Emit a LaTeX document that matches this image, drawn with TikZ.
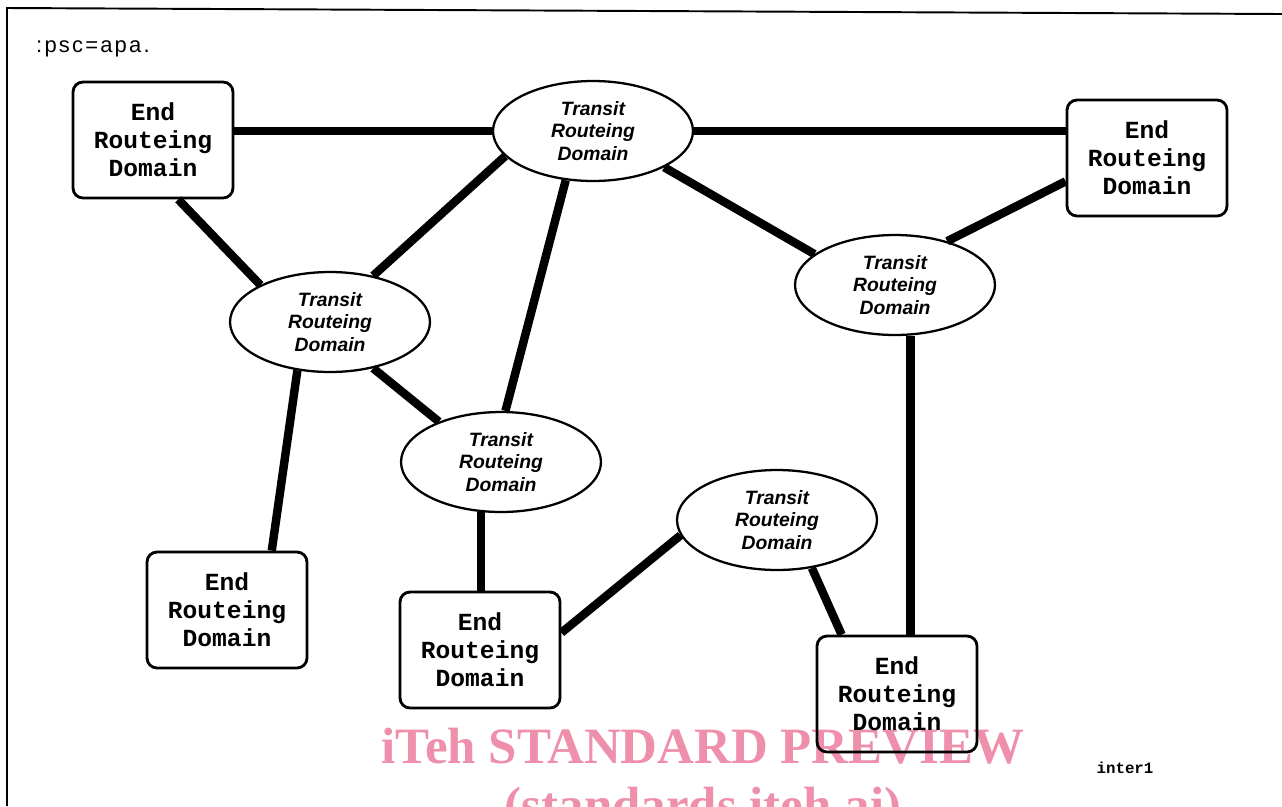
\documentclass[tikz,border=0pt]{standalone}
\usepackage{fontspec}
\setmainfont{Liberation Serif}
\newfontfamily\endfont{Liberation Mono}
\newfontfamily\transfont{Liberation Sans}
\usepackage{xcolor}
\usepackage{tikz}
\usetikzlibrary{shapes.geometric, positioning}
\definecolor{wmpink}{RGB}{238,143,172}

\begin{document}
\begin{tikzpicture}[
    x=0.02cm, y=-0.02cm,
    endbox/.style={rectangle, draw, line width=1.6pt, rounded corners=0.2cm, minimum width=3.2cm, minimum height=2.32cm, inner sep=0pt, align=center, font=\fontsize{14}{16}\selectfont\endfont\bfseries, execute at begin node={\rule{0pt}{19pt}}},
    transit/.style={ellipse, draw, line width=1.3pt, minimum width=4cm, minimum height=2cm, inner sep=0pt, align=center, font=\fontsize{11}{12.8}\selectfont\transfont\bfseries\itshape, execute at begin node={\rule{0pt}{15pt}}},
    link/.style={line width=4.8pt},
    frame/.style={line width=1.1pt}
]
    \useasboundingbox (0,0) rectangle (1282,806);

    % Watermark
    \node[anchor=base, text=wmpink, font=\fontsize{29}{35}\selectfont\bfseries] (wmtop) at (703,763) {iTeh STANDARD PREVIEW};
    \node[anchor=base, text=wmpink, font=\fontsize{29}{35}\selectfont\bfseries] (wmbot) at (703,822) {(standards.iteh.ai)};

    % Frame and labels
    \draw[frame] (1282,14) -- (7,8) -- (7,806);
    \node[anchor=base west, font=\fontsize{12.5}{14}\selectfont\transfont\addfontfeatures{LetterSpace=10}] (tag) at (30,52) {:psc=apa.};
    \node[anchor=base, font=\fontsize{9}{10}\selectfont\endfont\bfseries] (fileref) at (1125,773) {inter1};

    % End routeing domains
    \node[endbox] (endnw) at (153,140) {End\\Routeing\\Domain};
    \node[endbox] (endne) at (1147,158) {End\\Routeing\\Domain};
    \node[endbox] (endsw) at (227,610) {End\\Routeing\\Domain};
    \node[endbox] (ends) at (480,650) {End\\Routeing\\Domain};
    \node[endbox] (endse) at (897,694) {End\\Routeing\\Domain};

    % Transit routeing domains
    \node[transit] (trtop) at (593,131) {Transit\\Routeing\\Domain};
    \node[transit] (trleft) at (330,322) {Transit\\Routeing\\Domain};
    \node[transit] (trmid) at (501,462) {Transit\\Routeing\\Domain};
    \node[transit] (trright) at (895,285) {Transit\\Routeing\\Domain};
    \node[transit] (trlow) at (777,520) {Transit\\Routeing\\Domain};

    % Links
    \draw[link] (trtop.west) -- (trtop.west -| endnw.east);
    \draw[link] (trtop.east) -- (trtop.east -| endne.west);
    \draw[link] (endnw.-67) -- (trleft.152);
    \draw[link] (trtop.-164) -- (trleft.47);
    \draw[link] (trtop.-119) -- (trmid.85);
    \draw[link] (trtop.-27) -- (trright.159);
    \draw[link] (endne.-164) -- (trright.40);
    \draw[link] (trright.-73) -- (trright.-73 |- endse.north);
    \draw[link] (trleft.-124) -- (endsw.53);
    \draw[link] (trleft.-47) -- (trmid.147);
    \draw[link] (trmid.-112) -- (trmid.-112 |- ends.north);
    \draw[link] (trlow.-171) -- (ends.12);
    \draw[link] (trlow.-54) -- (endse.133);
\end{tikzpicture}
\end{document}
